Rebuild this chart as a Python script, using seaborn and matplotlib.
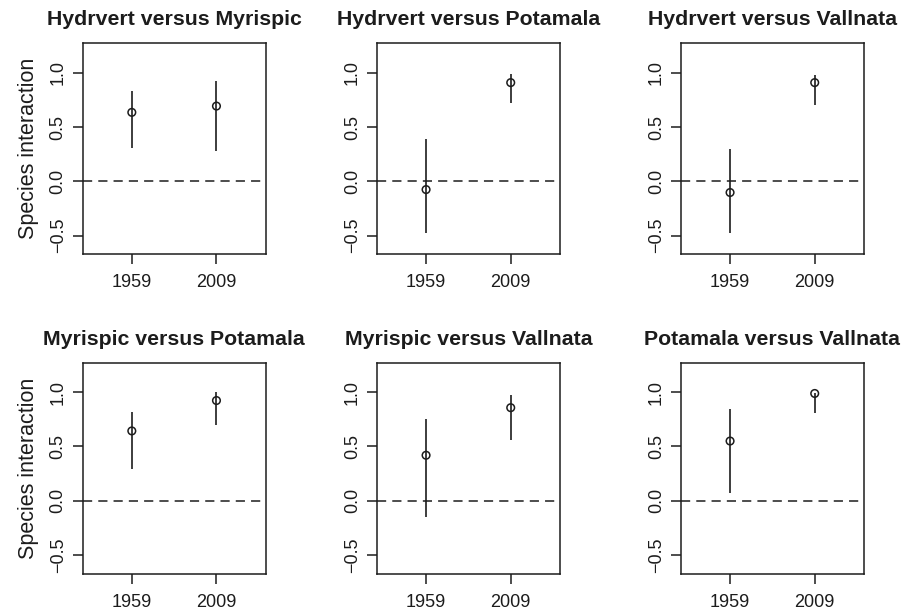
import matplotlib
matplotlib.use("Agg")
import matplotlib.pyplot as plt
import seaborn as sns
import pandas as pd
import numpy as np

titles = [
    "Hydrvert versus Myrispic",
    "Hydrvert versus Potamala",
    "Hydrvert versus Vallnata",
    "Myrispic versus Potamala",
    "Myrispic versus Vallnata",
    "Potamala versus Vallnata",
]
years = ["1959", "2009"]
est_1959 = [0.635, -0.076, -0.103, 0.643, 0.419, 0.550]
low_1959 = [0.305, -0.478, -0.478, 0.295, -0.146, 0.072]
high_1959 = [0.833, 0.390, 0.299, 0.817, 0.755, 0.848]
est_2009 = [0.693, 0.909, 0.909, 0.923, 0.857, 0.988]
low_2009 = [0.275, 0.720, 0.705, 0.696, 0.559, 0.808]
high_2009 = [0.928, 0.990, 0.976, 1.003, 0.972, 0.995]
yticks = [-0.5, 0.0, 0.5, 1.0]

rows = []
for i, t in enumerate(titles):
    rows.append(dict(pair=t, year=years[0], pos=1, est=est_1959[i], lo=low_1959[i], hi=high_1959[i]))
    rows.append(dict(pair=t, year=years[1], pos=2, est=est_2009[i], lo=low_2009[i], hi=high_2009[i]))
df = pd.DataFrame(rows)

sns.set_theme(style="white")
plt.rcParams["font.family"] = ["Liberation Sans", "DejaVu Sans"]

ink = "#1c1c1c"
fig = plt.figure(figsize=(9.11, 6.11), dpi=100)
lefts = [0.0908, 0.4138, 0.7475]
bottoms = [0.5838, 0.0610]
w, h = 0.2007, 0.3455

for k, t in enumerate(titles):
    r, c = divmod(k, 3)
    ax = fig.add_axes([lefts[c], bottoms[r], w, h])
    sub = df[df.pair == t]
    ax.vlines(sub.pos, sub.lo, sub.hi, color=ink, lw=1.2, zorder=2)
    sns.scatterplot(data=sub, x="pos", y="est", ax=ax, s=30, marker="o",
                    facecolor="none", edgecolor=ink, linewidth=1.1, zorder=3)
    ax.axhline(0, color=ink, lw=1.1, dashes=(6, 4), zorder=1)
    ax.set_xlim(0.42, 2.58)
    ax.set_ylim(-0.672, 1.272)
    ax.set_xticks([1, 2])
    ax.set_xticklabels(years, fontsize=13)
    ax.set_yticks(yticks)
    ax.set_yticklabels([f"{v:.1f}".replace("-", "\u2212") for v in yticks],
                       rotation=90, va="center", fontsize=13)
    ax.tick_params(axis="both", direction="out", length=7.5, width=1.1,
                   color=ink, bottom=True, left=True, labelcolor=ink)
    ax.tick_params(axis="x", pad=7)
    ax.tick_params(axis="y", pad=4)
    for s in ax.spines.values():
        s.set_color(ink)
        s.set_linewidth(1.1)
    ax.set_xlabel("")
    if c == 0:
        ax.set_ylabel("Species interaction", fontsize=15.5, labelpad=8, color=ink)
    else:
        ax.set_ylabel("")
    ax.set_title(t, fontsize=15.3, fontweight="bold", pad=13, color=ink)

fig.savefig("out.png", dpi=100, facecolor="white")
